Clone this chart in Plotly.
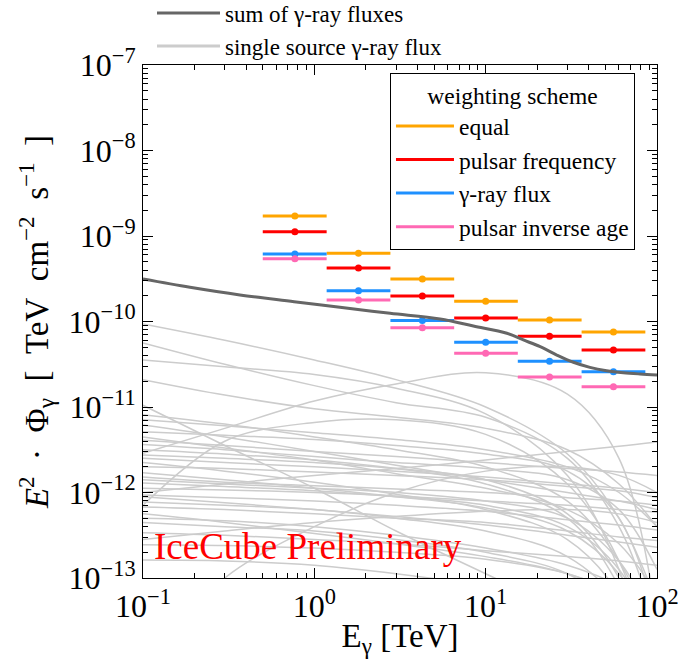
import plotly.graph_objects as go

# ---------------- data ----------------
bin_edges_tev = [0.5, 1.18, 2.78, 6.55, 15.4, 36.3, 85.5]
bin_centers_tev = [0.77, 1.81, 4.27, 10.0, 23.6, 55.7]

flux_equal = [1.71e-9, 6.28e-10, 3.14e-10, 1.72e-10, 1.04e-10, 7.54e-11]
flux_pulsar_frequency = [1.12e-9, 4.23e-10, 1.99e-10, 1.10e-10, 6.71e-11, 4.65e-11]
flux_gamma_ray = [6.15e-10, 2.29e-10, 1.03e-10, 5.71e-11, 3.43e-11, 2.59e-11]
flux_pulsar_inverse_age = [5.43e-10, 1.78e-10, 8.45e-11, 4.25e-11, 2.25e-11, 1.73e-11]

scheme_names = ["equal", "pulsar frequency", "γ-ray flux", "pulsar inverse age"]
scheme_colors = ["#FFA500", "#FF0000", "#1E90FF", "#FF69B4"]

sum_energy_tev = [0.1, 0.188, 0.368, 0.762, 1.41, 2.77, 5.42, 8.48, 13.3, 16.6,
                  20.8, 26.0, 32.5, 40.6, 50.8, 63.6, 79.6, 100]
sum_log_flux = [-9.503, -9.600, -9.690, -9.768, -9.834, -9.904, -9.971, -10.053,
                -10.138, -10.216, -10.295, -10.392, -10.477, -10.536, -10.575,
                -10.599, -10.614, -10.626]

single_energy_tev = [0.1, 0.3, 1, 3, 10, 30, 60, 100]
single_log_flux = [
    [-10.03, -10.22, -10.45, -10.68, -11.00, -11.55, -12.30, -13.30],
    [-10.25, -10.50, -10.75, -10.95, -11.12, -11.60, -12.40, -13.60],
    [-10.45, -10.53, -10.62, -10.78, -11.08, -11.80, -12.90, -14.50],
    [-10.68, -10.86, -11.02, -11.12, -11.25, -11.50, -11.90, -12.40],
    [-10.98, -11.45, -11.95, -12.45, -12.95, -13.40, -13.70, -13.95],
    [-11.54, -11.25, -10.93, -10.73, -10.60, -10.85, -11.60, -13.50],
    [-12.15, -11.40, -11.18, -11.15, -11.32, -11.90, -12.80, -14.20],
    [-11.09, -11.20, -11.35, -11.50, -11.70, -12.10, -12.80, -13.80],
    [-11.15, -11.22, -11.30, -11.38, -11.50, -11.70, -12.00, -12.40],
    [-11.21, -11.35, -11.52, -11.68, -11.85, -12.00, -12.10, -12.20],
    [-11.29, -11.33, -11.38, -11.45, -11.55, -11.75, -12.30, -13.50],
    [-11.39, -11.45, -11.52, -11.58, -11.65, -11.72, -11.76, -11.80],
    [-11.44, -11.50, -11.58, -11.65, -11.72, -11.85, -12.20, -12.90],
    [-11.56, -11.60, -11.65, -11.72, -11.85, -12.25, -13.00, -14.20],
    [-11.60, -11.65, -11.70, -11.75, -11.82, -11.90, -11.95, -12.00],
    [-11.70, -11.72, -11.76, -11.80, -11.85, -11.93, -11.98, -12.06],
    [-11.77, -11.85, -11.95, -12.05, -12.18, -12.45, -12.95, -13.80],
    [-12.00, -11.90, -11.80, -11.72, -11.62, -11.52, -11.46, -11.41],
    [-11.85, -11.90, -11.95, -12.00, -12.10, -12.30, -12.80, -13.60],
    [-11.89, -11.93, -11.98, -12.05, -12.15, -12.40, -12.90, -13.80],
    [-11.95, -11.97, -12.00, -12.04, -12.10, -12.15, -12.20, -12.23],
    [-12.03, -12.06, -12.10, -12.15, -12.22, -12.32, -12.38, -12.44],
    [-12.11, -12.15, -12.20, -12.30, -12.45, -12.75, -13.30, -14.50],
    [-12.17, -12.20, -12.25, -12.30, -12.35, -12.45, -12.52, -12.56],
    [-12.30, -12.33, -12.40, -12.50, -12.65, -12.85, -13.10, -13.50],
    [-12.35, -12.40, -12.45, -12.55, -12.70, -12.95, -13.40, -14.00],
    [-12.47, -12.50, -12.55, -12.60, -12.68, -12.75, -12.80, -12.85],
    [-12.61, -12.62, -12.65, -12.70, -12.78, -12.95, -13.20, -13.60],
    [-12.79, -12.80, -12.85, -12.95, -13.10, -13.30, -13.50, -13.70],
    [-14.00, -13.00, -12.40, -12.00, -11.75, -11.70, -11.80, -12.00],
    [-11.35, -11.48, -11.62, -11.78, -11.95, -12.20, -12.60, -13.20],
    [-11.50, -11.55, -11.62, -11.72, -11.90, -12.30, -13.10, -14.30],
    [-11.82, -11.88, -11.92, -11.96, -12.00, -12.06, -12.10, -12.15],
    [-12.05, -12.12, -12.20, -12.28, -12.38, -12.50, -12.58, -12.64],
    [-12.25, -12.35, -12.48, -12.60, -12.75, -12.95, -13.20, -13.60],
    [-11.65, -11.75, -11.88, -12.02, -12.20, -12.55, -13.20, -14.50],
    [-12.55, -12.45, -12.35, -12.28, -12.22, -12.20, -12.25, -12.35],
]

x_tick_vals = [0.1, 1, 10, 100]
x_tick_text = ["10<sup>−1</sup>", "10<sup>0</sup>", "10<sup>1</sup>", "10<sup>2</sup>"]
y_tick_vals = [1e-13, 1e-12, 1e-11, 1e-10, 1e-9, 1e-8, 1e-7]
y_tick_text = ["10<sup>−13</sup>", "10<sup>−12</sup>", "10<sup>−11</sup>", "10<sup>−10</sup>",
               "10<sup>−9</sup>", "10<sup>−8</sup>", "10<sup>−7</sup>"]
minor_digits = [2, 3, 4, 5, 6, 7, 8, 9]
x_minor_vals = [d * 10.0 ** e for e in range(-1, 2) for d in minor_digits]
y_minor_vals = [d * 10.0 ** e for e in range(-13, -7) for d in minor_digits]

FONT = "Liberation Serif"
LIGHT = "#cccccc"
DARK = "#666666"
SP = "\u2002"  # en space

fig = go.Figure()

# single source curves
for row in single_log_flux:
    fig.add_trace(go.Scatter(
        x=single_energy_tev, y=[10 ** v for v in row], mode="lines",
        line=dict(color=LIGHT, width=1.5, shape="spline", smoothing=1.0),
        name="single source γ-ray flux", legendgroup="single",
        showlegend=False, hoverinfo="skip"))

# weighting schemes
scheme_values = [flux_equal, flux_pulsar_frequency, flux_gamma_ray, flux_pulsar_inverse_age]
for name, color, vals in zip(scheme_names, scheme_colors, scheme_values):
    minus = [c - lo for c, lo in zip(bin_centers_tev, bin_edges_tev[:-1])]
    plus = [hi - c for c, hi in zip(bin_centers_tev, bin_edges_tev[1:])]
    fig.add_trace(go.Scatter(
        x=bin_centers_tev, y=vals, mode="markers",
        marker=dict(color=color, size=7),
        error_x=dict(type="data", symmetric=False, array=plus, arrayminus=minus,
                     color=color, thickness=3, width=0),
        showlegend=False, name=name))

# sum line
fig.add_trace(go.Scatter(
    x=sum_energy_tev, y=[10 ** v for v in sum_log_flux], mode="lines",
    line=dict(color=DARK, width=3, shape="spline"),
    name="sum of γ-ray fluxes", showlegend=True, legend="legend"))
fig.add_trace(go.Scatter(
    x=[None], y=[None], mode="lines", line=dict(color=LIGHT, width=3),
    name="single source γ-ray flux", showlegend=True, legend="legend"))
for name, color in zip(scheme_names, scheme_colors):
    fig.add_trace(go.Scatter(
        x=[None], y=[None], mode="lines", line=dict(color=color, width=3),
        name=name, showlegend=True, legend="legend2"))

axis_common = dict(
    type="log", showline=True, linecolor="black", linewidth=1, mirror="allticks",
    ticks="inside", ticklen=10, tickwidth=1, tickcolor="black",
    showgrid=False, zeroline=False, automargin=False, ticklabeloverflow="allow",
    tickfont=dict(family=FONT, size=32, color="black"),
)

y_title = ("<i>E</i><sup>2</sup>" + SP + "·" + SP + "Φ<sub>γ</sub>" + SP + "[" + SP + "TeV" + SP
           + "cm<sup>−2</sup>" + SP + "s<sup>−1</sup>" + SP + "]")

fig.update_xaxes(**axis_common, range=[-1, 2], tickvals=x_tick_vals, ticktext=x_tick_text,
                 minor=dict(tickvals=x_minor_vals, ticks="inside", ticklen=5, tickwidth=1,
                            tickcolor="black", showgrid=False),
                 title=dict(text="E<sub>γ</sub> [TeV]",
                            font=dict(family=FONT, size=33, color="black"), standoff=0))
fig.update_yaxes(**axis_common, range=[-13, -7], tickvals=y_tick_vals, ticktext=y_tick_text,
                 minor=dict(tickvals=y_minor_vals, ticks="inside", ticklen=5, tickwidth=1,
                            tickcolor="black", showgrid=False),
                 title=dict(text=y_title, font=dict(family=FONT, size=33, color="black"),
                            standoff=10))

fig.add_annotation(text="IceCube Preliminary", xref="paper", yref="paper", x=0.018, y=0.018,
                   xanchor="left", yanchor="bottom", showarrow=False,
                   font=dict(family=FONT, size=37, color="#FF0000"))

fig.update_layout(
    width=678, height=662,
    margin=dict(l=143, r=21, t=65, b=84, autoexpand=False),
    paper_bgcolor="white", plot_bgcolor="white",
    font=dict(family=FONT, color="black"),
    legend=dict(x=0.0175, y=1.143, xanchor="left", yanchor="top", bgcolor="rgba(0,0,0,0)",
                font=dict(family=FONT, size=23, color="black"), itemwidth=63,
                tracegroupgap=0),
    legend2=dict(x=0.4805, y=0.985, xanchor="left", yanchor="top", bgcolor="white",
                 bordercolor="black", borderwidth=1,
                 font=dict(family=FONT, size=23.5, color="black"), itemwidth=58,
                 title=dict(text="weighting scheme", side="top center",
                            font=dict(family=FONT, size=23.5, color="black"))),
    showlegend=True,
)

fig.write_html("out.html", config={"displayModeBar": False},
               post_script="document.body.style.margin='0px';")
